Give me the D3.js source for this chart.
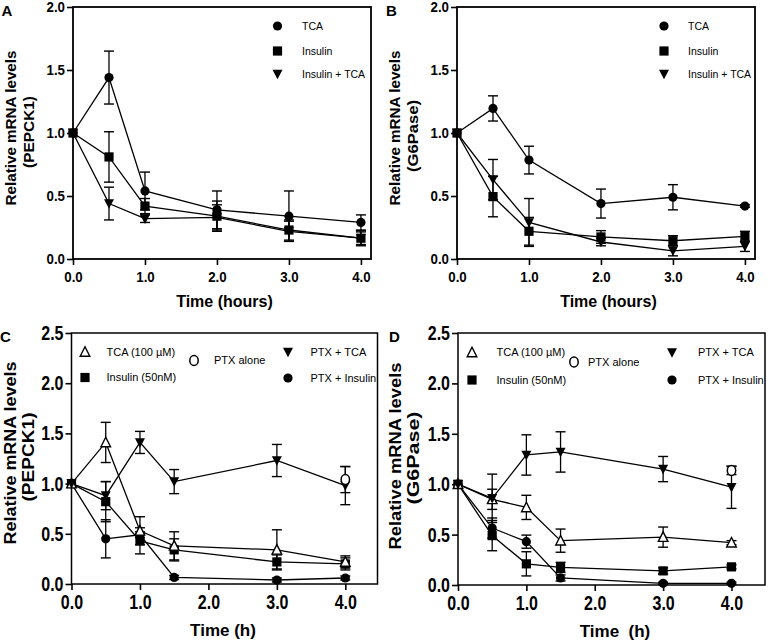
<!DOCTYPE html>
<html><head><meta charset="utf-8">
<script src="https://cdn.jsdelivr.net/npm/d3@7"></script>
<style>body{margin:0;background:#fff}svg{display:block}</style>
</head><body>
<svg id="c" width="768" height="642"></svg>
<script>
// ---------- DATA ----------
const timesAB = [0, 0.5, 1, 2, 3, 4];
const timesCD = [0, 0.5, 1, 1.5, 3, 4];
const xTicks = [0, 1, 2, 3, 4];
const yTicksAB = [0, 0.5, 1.0, 1.5, 2.0];
const yTicksCD = [0, 0.5, 1.0, 1.5, 2.0, 2.5];

// Panel A (PEPCK1)
const A_TCA = [1.0, 1.44, 0.54, 0.39, 0.34, 0.29];
const A_TCA_err = [0, 0.21, 0.15, 0.15, 0.2, 0.06];
const A_Ins = [1.0, 0.81, 0.42, 0.34, 0.23, 0.165];
const A_Ins_err = [0, 0.2, 0.06, 0.12, 0.08, 0.06];
const A_InsTCA = [1.0, 0.44, 0.32, 0.33, 0.22, 0.165];
const A_InsTCA_err = [0, 0.13, 0.03, 0.1, 0.08, 0.05];

// Panel B (G6Pase)
const B_TCA = [1.0, 1.195, 0.785, 0.44, 0.49, 0.42];
const B_TCA_err = [0, 0.1, 0.11, 0.115, 0.1, 0.01];
const B_Ins = [1.0, 0.495, 0.22, 0.175, 0.145, 0.18];
const B_Ins_err = [0, 0.16, 0.11, 0.05, 0.04, 0.04];
const B_InsTCA = [1.0, 0.63, 0.29, 0.135, 0.065, 0.1];
const B_InsTCA_err = [0, 0.16, 0.19, 0.03, 0.04, 0.04];

// Panel C (PEPCK1, PTX)
const C_TCA = [1.0, 1.41, 0.53, 0.38, 0.34, 0.22];
const C_TCA_err = [0, 0.2, 0.14, 0.14, 0.2, 0.06];
const C_Ins = [1.0, 0.82, 0.43, 0.34, 0.22, 0.2];
const C_Ins_err = [0, 0.2, 0.13, 0.11, 0.07, 0.06];
const C_PTXTCA = [1.0, 0.88, 1.41, 1.02, 1.23, 0.98];
const C_PTXTCA_err = [0, 0.14, 0.11, 0.12, 0.16, 0.19];
const C_PTXIns = [1.0, 0.45, 0.49, 0.065, 0.04, 0.06];
const C_PTXIns_err = [0, 0.19, 0.03, 0.02, 0.02, 0.02];
const C_PTX_t = [4];
const C_PTX = [1.04];
const C_PTX_err = [0.13];

// Panel D (G6Pase, PTX)
const D_TCA = [1.0, 0.85, 0.77, 0.44, 0.475, 0.42];
const D_TCA_err = [0, 0.1, 0.12, 0.115, 0.1, 0.02];
const D_Ins = [1.0, 0.49, 0.21, 0.175, 0.14, 0.18];
const D_Ins_err = [0, 0.15, 0.12, 0.05, 0.03, 0.02];
const D_PTXTCA = [1.0, 0.86, 1.29, 1.32, 1.15, 0.97];
const D_PTXTCA_err = [0, 0.24, 0.2, 0.2, 0.125, 0.21];
const D_PTXIns = [1.0, 0.565, 0.43, 0.07, 0.017, 0.017];
const D_PTXIns_err = [0, 0.1, 0.065, 0.03, 0.01, 0.01];
const D_PTX_t = [4];
const D_PTX = [1.135];
const D_PTX_err = [0.04];

// ---------- DRAW ----------
const svg = d3.select("#c");
const BOLD = "'Liberation Sans', Arial, Helvetica, sans-serif";

const shapes = {
  circle: (g) => g.append("circle").attr("r", 4.6).attr("fill", "#000"),
  ocircle: (g) => g.append("ellipse").attr("rx", 4.2).attr("ry", 5).attr("fill", "#fff").attr("stroke", "#000").attr("stroke-width", 1.5),
  square: (g) => g.append("rect").attr("x", -4.6).attr("y", -4.6).attr("width", 9.2).attr("height", 9.2).attr("fill", "#000"),
  tdown: (g) => g.append("path").attr("d", "M-5,-4.3L5,-4.3L0,5.2Z").attr("fill", "#000"),
  tup: (g) => g.append("path").attr("d", "M-4.8,4.3L4.8,4.3L0,-5.2Z").attr("fill", "#fff").attr("stroke", "#000").attr("stroke-width", 1.4)
};
function marker(g, shape, x, y) {
  const m = g.append("g").attr("transform", `translate(${x},${y})`);
  shapes[shape](m);
}

function panel(cfg) {
  const x = d3.scaleLinear().domain([0, cfg.xmax]).range([cfg.left, cfg.right]);
  const y = d3.scaleLinear().domain([0, cfg.ymax]).range([cfg.bottom, cfg.top]);
  const g = svg.append("g");

  // axes
  const ax = g.append("g").attr("transform", `translate(0,${cfg.bottom})`)
    .call(d3.axisBottom(x).tickValues(xTicks).tickFormat(d3.format(".1f")).tickSize(6).tickPadding(cfg.xpad));
  const ay = g.append("g").attr("transform", `translate(${cfg.left},0)`)
    .call(d3.axisLeft(y).tickValues(cfg.yTicks).tickFormat(d3.format(".1f")).tickSize(6).tickPadding(2));
  [ax, ay].forEach(a => {
    a.select(".domain").remove();
    a.selectAll("line").attr("stroke", "#000").attr("stroke-width", 1.6);
    a.selectAll("text").attr("fill", "#000").attr("font-family", BOLD)
      .attr("font-weight", "bold").attr("font-size", cfg.tickSize);
  });
  ax.selectAll("text").attr("transform", `scale(${cfg.squeeze},1)`);
  ay.selectAll("text").attr("x", -8 / cfg.squeeze).attr("transform", `scale(${cfg.squeeze},1)`);
  // frame
  g.append("rect").attr("x", cfg.left).attr("y", cfg.top)
    .attr("width", cfg.right - cfg.left).attr("height", cfg.bottom - cfg.top)
    .attr("fill", "none").attr("stroke", "#000").attr("stroke-width", cfg.frameW);

  // series
  const line = d3.line().x(d => x(d.t)).y(d => y(d.v));
  cfg.series.forEach(s => {
    const pts = s.t.map((t, i) => ({t, v: s.v[i], e: s.e[i]}));
    if (pts.length > 1)
      g.append("path").attr("d", line(pts)).attr("fill", "none").attr("stroke", "#000").attr("stroke-width", 1.3);
    pts.forEach(p => {
      if (p.e > 0) {
        const cx = x(p.t);
        g.append("line").attr("x1", cx).attr("x2", cx).attr("y1", y(p.v - p.e)).attr("y2", y(p.v + p.e))
          .attr("stroke", "#000").attr("stroke-width", 1.3);
        [p.v - p.e, p.v + p.e].forEach(v => g.append("line").attr("x1", cx - 5).attr("x2", cx + 5)
          .attr("y1", y(v)).attr("y2", y(v)).attr("stroke", "#000").attr("stroke-width", 1.4));
      }
    });
  });
  cfg.series.forEach(s => s.t.forEach((t, i) => marker(g, s.shape, x(t), y(s.v[i]))));

  // legend
  cfg.legend.forEach(l => {
    marker(g, l.shape, l.mx, l.y);
    g.append("text").attr("x", l.tx).attr("y", l.y + 3.8).text(l.label)
      .attr("font-family", BOLD).attr("font-size", cfg.legSize).attr("fill", "#000");
  });

  // titles
  cfg.ytitle.forEach(t => {
    g.append("text").attr("transform", `translate(${t.x},${t.cy}) rotate(-90)`)
      .attr("text-anchor", "middle").attr("font-family", BOLD).attr("font-weight", "bold")
      .attr("font-size", t.size).attr("textLength", t.len).attr("lengthAdjust", "spacingAndGlyphs")
      .attr("fill", "#000").text(t.text);
  });
  g.append("text").attr("x", cfg.xtitle.cx).attr("y", cfg.xtitle.y).attr("text-anchor", "middle")
    .attr("font-family", BOLD).attr("font-weight", "bold").attr("font-size", cfg.xtitle.size)
    .style("white-space", "pre")
    .attr("fill", "#000").text(cfg.xtitle.text);
  g.append("text").attr("x", cfg.label.x).attr("y", cfg.label.y).attr("font-family", BOLD)
    .attr("font-weight", "bold").attr("font-size", 15).attr("fill", "#000").text(cfg.label.text);
}

const legAB = (mx, tx) => [
  {shape: "circle", label: "TCA", mx, tx, y: 26},
  {shape: "square", label: "Insulin", mx, tx, y: 51},
  {shape: "tdown", label: "Insulin + TCA", mx, tx, y: 74}
];

panel({
  left: 73, right: 371, top: 7, bottom: 259, xmax: 4.14, ymax: 2.0, yTicks: yTicksAB,
  tickSize: 14, squeeze: 0.95, xpad: 7, frameW: 1.8, legSize: 10.5,
  series: [
    {t: timesAB, v: A_TCA, e: A_TCA_err, shape: "circle"},
    {t: timesAB, v: A_Ins, e: A_Ins_err, shape: "square"},
    {t: timesAB, v: A_InsTCA, e: A_InsTCA_err, shape: "tdown"}
  ],
  legend: legAB(277.5, 302),
  ytitle: [{text: "Relative mRNA levels", x: 16, cy: 128, size: 14, len: 155},
           {text: "(PEPCK1)", x: 34, cy: 132, size: 14, len: 72}],
  xtitle: {text: "Time (hours)", cx: 224.5, y: 307, size: 16},
  label: {text: "A", x: 1.5, y: 15.5}
});
panel({
  left: 457, right: 755, top: 7, bottom: 259, xmax: 4.14, ymax: 2.0, yTicks: yTicksAB,
  tickSize: 14, squeeze: 0.95, xpad: 7, frameW: 1.8, legSize: 10.5,
  series: [
    {t: timesAB, v: B_TCA, e: B_TCA_err, shape: "circle"},
    {t: timesAB, v: B_Ins, e: B_Ins_err, shape: "square"},
    {t: timesAB, v: B_InsTCA, e: B_InsTCA_err, shape: "tdown"}
  ],
  legend: legAB(664, 688),
  ytitle: [{text: "Relative mRNA levels", x: 400, cy: 128, size: 14, len: 155},
           {text: "(G6Pase)", x: 418, cy: 136, size: 14, len: 72}],
  xtitle: {text: "Time (hours)", cx: 608.5, y: 307, size: 16},
  label: {text: "B", x: 386, y: 15.5}
});
panel({
  left: 71.5, right: 377.5, top: 333, bottom: 584, xmax: 4.47, ymax: 2.5, yTicks: yTicksCD,
  tickSize: 20, squeeze: 0.8, xpad: 5, frameW: 1.5, legSize: 11,
  series: [
    {t: timesCD, v: C_Ins, e: C_Ins_err, shape: "square"},
    {t: timesCD, v: C_PTXIns, e: C_PTXIns_err, shape: "circle"},
    {t: timesCD, v: C_TCA, e: C_TCA_err, shape: "tup"},
    {t: timesCD, v: C_PTXTCA, e: C_PTXTCA_err, shape: "tdown"},
    {t: C_PTX_t, v: C_PTX, e: C_PTX_err, shape: "ocircle"}
  ],
  legend: [
    {shape: "tup", label: "TCA (100 \u00b5M)", mx: 85, tx: 106.5, y: 352},
    {shape: "square", label: "Insulin (50nM)", mx: 85, tx: 106.5, y: 377.5},
    {shape: "ocircle", label: "PTX alone", mx: 194, tx: 214, y: 360.5},
    {shape: "tdown", label: "PTX + TCA", mx: 288, tx: 310.5, y: 352},
    {shape: "circle", label: "PTX + Insulin", mx: 288, tx: 310.5, y: 378}
  ],
  ytitle: [{text: "Relative mRNA levels", x: 16, cy: 453, size: 16, len: 183},
           {text: "(PEPCK1)", x: 34, cy: 457, size: 16, len: 89}],
  xtitle: {text: "Time (h)", cx: 223, y: 636, size: 17},
  label: {text: "C", x: 0, y: 342}
});
panel({
  left: 458, right: 765, top: 333, bottom: 585, xmax: 4.49, ymax: 2.5, yTicks: yTicksCD,
  tickSize: 20, squeeze: 0.8, xpad: 5, frameW: 1.5, legSize: 11,
  series: [
    {t: timesCD, v: D_Ins, e: D_Ins_err, shape: "square"},
    {t: timesCD, v: D_PTXIns, e: D_PTXIns_err, shape: "circle"},
    {t: timesCD, v: D_TCA, e: D_TCA_err, shape: "tup"},
    {t: timesCD, v: D_PTXTCA, e: D_PTXTCA_err, shape: "tdown"},
    {t: D_PTX_t, v: D_PTX, e: D_PTX_err, shape: "ocircle"}
  ],
  legend: [
    {shape: "tup", label: "TCA (100 \u00b5M)", mx: 472, tx: 496.5, y: 352.5},
    {shape: "square", label: "Insulin (50nM)", mx: 472, tx: 496.5, y: 380},
    {shape: "ocircle", label: "PTX alone", mx: 574, tx: 588, y: 362},
    {shape: "tdown", label: "PTX + TCA", mx: 672, tx: 698, y: 352.5},
    {shape: "circle", label: "PTX + Insulin", mx: 672, tx: 698, y: 380}
  ],
  ytitle: [{text: "Relative mRNA levels", x: 401, cy: 456, size: 16, len: 187},
           {text: "(G6Pase)", x: 419, cy: 458, size: 16, len: 93}],
  xtitle: {text: "Time  (h)", cx: 615, y: 637, size: 17},
  label: {text: "D", x: 389, y: 342}
});
</script>
</body></html>
